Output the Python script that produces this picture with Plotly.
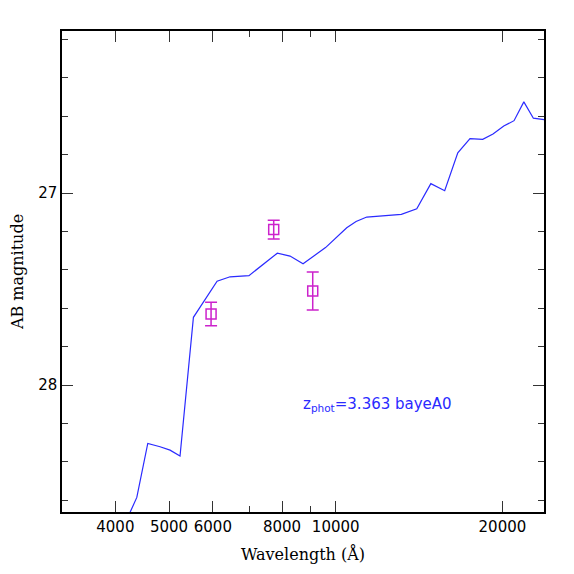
import numpy as np
import plotly.graph_objects as go

# model SED (wavelength in Angstrom, AB magnitude)
sed_wave = [4150, 4253, 4373, 4577, 4817, 5021, 5234, 5534, 6106, 6445, 6971,
            7844, 8270, 8730, 9585, 10468, 10882, 11377, 12274, 13136, 14007,
            14851, 15732, 16612, 17477, 18427, 19231, 20111, 20989, 21862,
            22746, 24380]
sed_mag = [28.73, 28.663, 28.585, 28.304, 28.321, 28.339, 28.370, 27.647,
           27.459, 27.436, 27.430, 27.313, 27.328, 27.368, 27.284, 27.181,
           27.148, 27.125, 27.119, 27.111, 27.082, 26.951, 26.988, 26.790,
           26.716, 26.720, 26.692, 26.651, 26.623, 26.525, 26.610, 26.622]

# observed photometry
phot_wave = [5955, 7727, 9088]
phot_mag = [27.630, 27.190, 27.510]
phot_err = [0.061, 0.049, 0.099]

x_ticks = [4000, 5000, 6000, 8000, 10000, 20000]
x_minor = [7000, 9000]
y_ticks = [27, 28]
y_minor = [26.2, 26.4, 26.6, 26.8, 27.2, 27.4, 27.6, 27.8, 28.2, 28.4, 28.6]

SERIF = "DejaVu Serif"
SANS = "DejaVu Sans"

fig = go.Figure()

fig.add_trace(go.Scatter(x=sed_wave, y=sed_mag, mode="lines",
                         line=dict(color="#2a2aff", width=1.2),
                         showlegend=False, hoverinfo="skip"))

fig.add_trace(go.Scatter(x=phot_wave, y=phot_mag, mode="markers",
                         marker=dict(symbol="square-open", size=10,
                                     color="#cc22cc", line=dict(width=1.5)),
                         error_y=dict(type="data", array=phot_err,
                                      color="#cc22cc", thickness=1.5, width=6),
                         showlegend=False))

fig.add_annotation(x=np.log10(8650), y=28.10, xref="x", yref="y",
                   text="z<sub>phot</sub>=3.363 bayeA0", showarrow=False,
                   xanchor="left", yanchor="middle",
                   font=dict(family=SANS, size=15, color="#2a2aff"))

axis_common = dict(showgrid=False, zeroline=False, showline=True,
                   linecolor="black", linewidth=1.5, mirror="ticks",
                   ticks="inside", tickcolor="#333333", tickwidth=1.2,
                   automargin=False,
                   tickfont=dict(family=SANS, size=15, color="black"))

fig.update_xaxes(type="log",
                 range=[np.log10(3204), np.log10(23774)],
                 tickmode="array", tickvals=x_ticks,
                 ticktext=[str(v) for v in x_ticks], ticklen=11,
                 minor=dict(tickmode="array", tickvals=x_minor, ticklen=6,
                            ticks="inside", tickcolor="#333333", tickwidth=1.2),
                 title=dict(text="Wavelength (Å)", standoff=14,
                            font=dict(family=SERIF, size=16, color="black")),
                 **axis_common)

fig.update_yaxes(range=[28.661, 26.156],
                 tickmode="array", tickvals=y_ticks,
                 ticktext=[str(v) for v in y_ticks], ticklen=11,
                 minor=dict(tickmode="array", tickvals=y_minor, ticklen=6,
                            ticks="inside", tickcolor="#333333", tickwidth=1.2),
                 title=dict(text="AB magnitude", standoff=11,
                            font=dict(family=SERIF, size=16, color="black")),
                 **axis_common)

# page body adds an 8px margin, so the figure is sized to fit inside it
fig.update_layout(width=558, height=558,
                  margin=dict(l=54, r=22, t=23, b=54),
                  paper_bgcolor="white", plot_bgcolor="white")

fig.write_html("out.html")
